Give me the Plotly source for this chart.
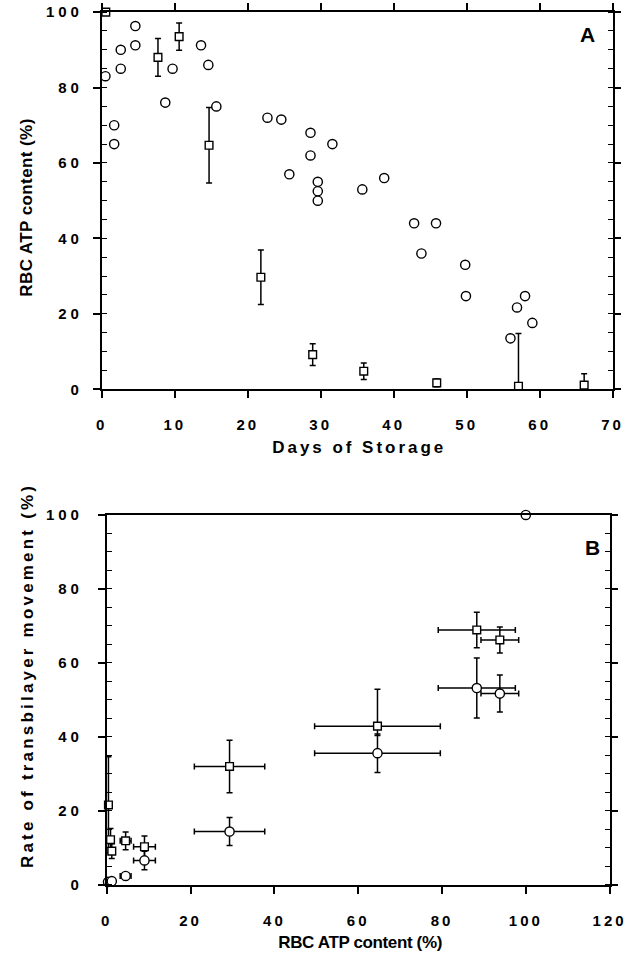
import plotly.graph_objects as go

# ---- Panel A: RBC ATP content vs. days of storage ----
days_open = [0.5, 1.7, 1.7, 2.6, 2.6, 4.6, 4.6, 8.7, 9.7, 13.6, 14.6, 15.7,
             22.7, 24.6, 25.7, 28.6, 28.6, 29.6, 29.6, 29.6, 31.6, 35.7,
             38.7, 42.8, 43.8, 45.8, 49.8, 49.9, 56.0, 56.9, 58.0, 59.0]
atp_open = [83, 70, 65, 90, 85, 96.3, 91.2, 76, 85, 91.2, 86, 75,
            72, 71.5, 57, 68, 62, 55, 52.5, 50, 65, 53,
            56, 44, 36, 44, 33, 24.7, 13.5, 21.7, 24.7, 17.6]

days_sq = [0.55, 7.7, 10.6, 14.7, 21.8, 28.9, 35.9, 45.9, 57.1, 66.1]
atp_sq = [100, 88, 93.5, 64.7, 29.7, 9.2, 4.8, 1.7, 0.8, 1.1]
atp_sq_err_hi = [0, 5, 3.6, 10, 7.2, 2.9, 2.2, 1.0, 14, 3.0]
atp_sq_err_lo = [0, 5, 3.6, 10, 7.2, 2.9, 2.2, 1.0, 0.8, 1.1]

# ---- Panel B: transbilayer movement rate vs. ATP content ----
b_sq_atp = [0.4, 0.9, 1.2, 4.5, 9.0, 29.3, 64.6, 88.3, 93.8]
b_sq_atp_err = [0.3, 0.3, 0.3, 1.3, 2.6, 8.4, 15, 9.2, 4.5]
b_sq_rate = [21.6, 12.2, 9.1, 11.9, 10.3, 32.0, 42.9, 68.9, 66.2]
b_sq_rate_err_hi = [13, 3, 2, 2.4, 2.9, 7.1, 10, 4.8, 3.5]
b_sq_rate_err_lo = [13, 3, 2, 2.4, 2.9, 7.1, 2.5, 4.8, 3.5]

b_ci_atp = [0.3, 1.2, 4.5, 9.0, 29.3, 64.6, 88.3, 93.8, 100]
b_ci_atp_err = [0.3, 0.3, 1.3, 2.6, 8.4, 15, 9.2, 4.5, 0.5]
b_ci_rate = [0.8, 1.0, 2.4, 6.6, 14.4, 35.6, 53.2, 51.7, 100]
b_ci_rate_err = [0.3, 0.3, 0.5, 2.5, 3.8, 5.2, 8.1, 5.0, 0.5]

INK = "black"
FONT = "Liberation Sans, Arial, sans-serif"

W, H = 639, 955
# Layout positions are given in final page pixels; the page is shown with
# its body margin and fitted back into the window, so convert accordingly.
SX, OX = 0.9756, 4.0
SY, OY = 0.9825, 7.9


def fx(px):
    return (px - OX) / SX / W


def fy(py):
    return 1 - (py - OY) / SY / H


circle_marker = dict(symbol="circle", size=9.2, color="white",
                     line=dict(color=INK, width=1.4))
square_marker = dict(symbol="square", size=7.7, color="white",
                     line=dict(color=INK, width=1.4))

fig = go.Figure()

fig.add_trace(go.Scatter(
    x=days_sq, y=atp_sq, mode="markers", marker=square_marker,
    error_y=dict(type="data", symmetric=False, array=atp_sq_err_hi,
                 arrayminus=atp_sq_err_lo, color=INK, thickness=1.5, width=3),
    cliponaxis=False, xaxis="x", yaxis="y", showlegend=False))
fig.add_trace(go.Scatter(
    x=days_open, y=atp_open, mode="markers", marker=circle_marker,
    cliponaxis=False, xaxis="x", yaxis="y", showlegend=False))

fig.add_trace(go.Scatter(
    x=b_sq_atp, y=b_sq_rate, mode="markers", marker=square_marker,
    error_x=dict(type="data", array=b_sq_atp_err, color=INK, thickness=1.5, width=3),
    error_y=dict(type="data", symmetric=False, array=b_sq_rate_err_hi,
                 arrayminus=b_sq_rate_err_lo, color=INK, thickness=1.5, width=3),
    cliponaxis=False, xaxis="x2", yaxis="y2", showlegend=False))
fig.add_trace(go.Scatter(
    x=b_ci_atp, y=b_ci_rate, mode="markers", marker=circle_marker,
    error_x=dict(type="data", array=b_ci_atp_err, color=INK, thickness=1.5, width=3),
    error_y=dict(type="data", array=b_ci_rate_err, color=INK, thickness=1.5, width=3),
    cliponaxis=False, xaxis="x2", yaxis="y2", showlegend=False))

tick_font = dict(family=FONT, size=15, color=INK, weight="bold")
common = dict(showgrid=False, zeroline=False, showline=True, linecolor=INK,
              linewidth=1.7, ticks="outside", ticklen=7, tickwidth=1.6,
              tickcolor=INK, tickfont=tick_font, ticklabelstandoff=7,
              tickmode="linear", tick0=0)
minor_y = dict(dtick=5, tick0=0, ticks="inside", ticklen=5,
               tickwidth=1.3, tickcolor=INK)

fig.update_layout(
    width=W, height=H, margin=dict(l=0, r=0, t=0, b=0),
    paper_bgcolor="white", plot_bgcolor="white",
    xaxis=dict(common, domain=[fx(102), fx(614)], range=[0, 70], dtick=10,
               mirror="allticks", anchor="y", ticklabelstandoff=14),
    yaxis=dict(common, domain=[fy(388.3), fy(11)], range=[0, 100], dtick=20,
               mirror="allticks", anchor="x", minor=minor_y),
    xaxis2=dict(common, domain=[fx(107), fx(611)], range=[0, 120], dtick=20,
                mirror=True, anchor="y2", ticklabelstandoff=14),
    yaxis2=dict(common, domain=[fy(884), fy(514)], range=[0, 100], dtick=20,
                mirror="allticks", anchor="x2", minor=minor_y,
                ticklabelstandoff=12),
)


def label(text, px, py, size=17, angle=0):
    fig.add_annotation(text=text, x=fx(px), y=fy(py), xref="paper",
                       yref="paper", showarrow=False, textangle=angle,
                       xanchor="center", yanchor="middle",
                       font=dict(family=FONT, size=size, color=INK, weight="bold"))


label("Days of Storage", 358, 447)
label("RBC ATP content (%)", 26, 206, angle=-90)
label("A", 589, 33, size=21)

label("RBC ATP content (%)", 361, 942)
label("Rate of transbilayer movement (%)", 28, 676, angle=-90)
label("B", 594, 547, size=21)

# Wide, spaced-out lettering of the axis titles and tick numbers.
post = """
var gd = document.getElementById('{plot_id}');
function spread() {
  gd.querySelectorAll('.ytick text, .y2tick text').forEach(function (t) {
    t.style.letterSpacing = '4px';
  });
  gd.querySelectorAll('.xtick text, .x2tick text').forEach(function (t) {
    t.style.letterSpacing = '3px';
  });
  var widths = [171, 178, 0, 164, 382, 0];
  gd.querySelectorAll('.annotation-text').forEach(function (t, i) {
    if (widths[i]) {
      t.setAttribute('textLength', widths[i]);
      t.setAttribute('lengthAdjust', 'spacing');
    }
  });
}
spread();
gd.on('plotly_afterplot', spread);
"""

fig.write_html("out.html", post_script=post)
